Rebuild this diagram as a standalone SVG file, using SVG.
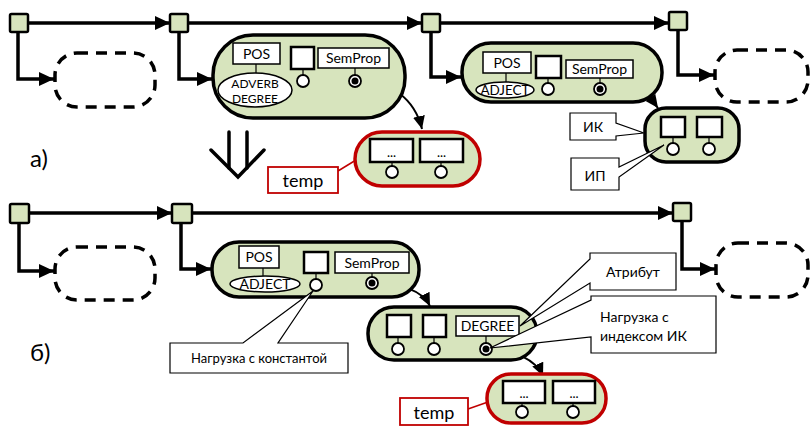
<svg xmlns="http://www.w3.org/2000/svg" width="811" height="426" viewBox="0 0 811 426">
<style>
text{font-family:Lato,"Open Sans","Liberation Sans",sans-serif;fill:#000}
.sq{fill:#d7e4bd;stroke:#000;stroke-width:2.5}
.node{fill:#d7e4bd;stroke:#000;stroke-width:3.5}
.red{fill:#d7e4bd;stroke:#c00000;stroke-width:3.5}
.dash{fill:none;stroke:#000;stroke-width:3.5;stroke-dasharray:11 8}
.box{fill:#fff;stroke:#000;stroke-width:1.5}
.bbox{fill:#fff;stroke:#000;stroke-width:2.5}
.pin{fill:#fff;stroke:#000;stroke-width:1.8}
.stem{stroke:#000;stroke-width:1.2}
.thick{fill:none;stroke:#000;stroke-width:3.5}
.curve{fill:none;stroke:#000;stroke-width:2}
.call{fill:#fff;stroke:#000;stroke-width:1.2}
.tag{fill:#fff;stroke:#c00000;stroke-width:1.8}
.lbl{font-size:14px;text-anchor:middle}
.dots{font-size:13px;text-anchor:middle}
</style>
<defs>
<marker id="ah" markerWidth="16" markerHeight="16" refX="15" refY="8" orient="auto" markerUnits="userSpaceOnUse"><path d="M0,1 L15,8 L0,15 z" fill="#000"/></marker>
<marker id="ac" markerWidth="14" markerHeight="14" refX="13" refY="7" orient="auto" markerUnits="userSpaceOnUse"><path d="M0,1 L13,7 L0,13 z" fill="#000"/></marker>
</defs>

<g id="connectors">
<path class="thick" d="M28,23 H170" marker-end="url(#ah)"/>
<path class="thick" d="M18,32 V79 H54" marker-end="url(#ah)"/>
<path class="thick" d="M188,23 H422" marker-end="url(#ah)"/>
<path class="thick" d="M179,32 V79 H212" marker-end="url(#ah)"/>
<path class="thick" d="M440,23 H669" marker-end="url(#ah)"/>
<path class="thick" d="M431,32 V77 H461" marker-end="url(#ah)"/>
<path class="thick" d="M678,30 V75 H714" marker-end="url(#ah)"/>
<path class="curve" d="M355,81 C392,80 415,100 422,129" marker-end="url(#ac)"/>
<path class="curve" d="M600,89 C628,88 648,94 658,108" marker-end="url(#ac)"/>
<path class="thick" d="M29,213 H172" marker-end="url(#ah)"/>
<path class="thick" d="M19,223 V271 H54" marker-end="url(#ah)"/>
<path class="thick" d="M192,213 H673" marker-end="url(#ah)"/>
<path class="thick" d="M181,223 V269 H211" marker-end="url(#ah)"/>
<path class="thick" d="M682,221 V269 H715" marker-end="url(#ah)"/>
<path class="curve" d="M372,283 C402,284 422,290 430,306" marker-end="url(#ac)"/>
<path class="curve" d="M486,349 C516,350 536,360 543,376" marker-end="url(#ac)"/>
<line x1="338" y1="171" x2="356" y2="160" stroke="#c00000" stroke-width="1.5"/>
<line x1="468" y1="409" x2="488" y2="402" stroke="#c00000" stroke-width="1.5"/>
</g>

<g id="labels-ab">
<text x="30" y="167" font-size="24">а)</text>
<text x="30" y="361" font-size="24">б)</text>
</g>

<g id="transform-arrow" fill="none" stroke="#000" stroke-width="3.5" stroke-linecap="round" stroke-linejoin="miter">
<line x1="229" y1="132" x2="229" y2="168"/>
<line x1="247" y1="132" x2="247" y2="168"/>
<polyline points="211,150 238,177 264,150"/>
</g>

<!-- top row -->
<g id="a-sq1"><rect class="sq" x="10" y="14" width="18" height="18" rx="1.5"/></g>
<g id="a-sq2"><rect class="sq" x="170" y="14" width="18" height="18" rx="1.5"/></g>
<g id="a-sq3"><rect class="sq" x="422" y="14" width="18" height="18" rx="1.5"/></g>
<g id="a-sq4"><rect class="sq" x="669" y="12" width="18" height="18" rx="1.5"/></g>
<g id="a-dash1"><rect class="dash" x="55" y="53" width="100" height="54" rx="22"/></g>
<g id="a-dash2"><rect class="dash" x="715" y="50" width="93" height="52" rx="22"/></g>

<g id="a-node1">
<rect class="node" x="213" y="35" width="192" height="83" rx="40"/>
<rect class="box" x="233" y="43" width="47" height="21"/>
<text class="lbl" x="256.5" y="59">POS</text>
<line class="stem" x1="256" y1="64" x2="256" y2="73"/>
<ellipse class="box" cx="255" cy="90" rx="37" ry="17"/>
<text x="255" y="88" font-size="12" text-anchor="middle">ADVERB</text>
<text x="255" y="103" font-size="12" text-anchor="middle">DEGREE</text>
<rect class="bbox" x="291" y="47" width="23" height="22"/>
<line class="stem" x1="303" y1="69" x2="303" y2="75"/>
<circle class="pin" cx="303" cy="81" r="6"/>
<rect class="box" x="318" y="48" width="71" height="20"/>
<text class="lbl" x="353.5" y="63">SemProp</text>
<line class="stem" x1="355" y1="68" x2="355" y2="75"/>
<circle class="pin" cx="355" cy="81" r="6"/>
<circle cx="355" cy="81" r="3.5" fill="#000"/>
</g>

<g id="a-red">
<rect class="red" x="355" y="132" width="125" height="54" rx="27"/>
<rect class="bbox" x="370" y="139" width="43" height="23"/>
<text class="dots" x="391.5" y="157">...</text>
<line class="stem" x1="392" y1="162" x2="392" y2="166"/>
<circle class="pin" cx="392" cy="172" r="6"/>
<rect class="bbox" x="420" y="139" width="43" height="23"/>
<text class="dots" x="441.5" y="157">...</text>
<line class="stem" x1="441" y1="162" x2="441" y2="166"/>
<circle class="pin" cx="441" cy="172" r="6"/>
</g>
<g id="a-temp">
<rect class="tag" x="268" y="167" width="70" height="26"/>
<text x="303" y="187" font-size="18" text-anchor="middle">temp</text>
</g>

<g id="a-node2">
<rect class="node" x="462" y="43" width="200" height="59" rx="29"/>
<rect class="box" x="483" y="52" width="48" height="21"/>
<text class="lbl" x="507" y="68">POS</text>
<line class="stem" x1="506" y1="73" x2="506" y2="82"/>
<ellipse class="box" cx="505" cy="90" rx="29" ry="8"/>
<text x="505" y="95" font-size="13.5" text-anchor="middle">ADJECT</text>
<rect class="bbox" x="536" y="56" width="25" height="22"/>
<line class="stem" x1="548" y1="78" x2="548" y2="83"/>
<circle class="pin" cx="548" cy="89" r="6"/>
<rect class="box" x="566" y="60" width="67" height="18"/>
<text class="lbl" x="599.5" y="74">SemProp</text>
<line class="stem" x1="600" y1="78" x2="600" y2="83"/>
<circle class="pin" cx="600" cy="89" r="6"/>
<circle cx="600" cy="89" r="3.5" fill="#000"/>
</g>

<g id="a-node3">
<rect class="node" x="645" y="108" width="94" height="54" rx="21"/>
<rect class="bbox" x="661" y="117" width="24" height="20"/>
<line class="stem" x1="673" y1="137" x2="673" y2="143"/>
<circle class="pin" cx="673" cy="149" r="6"/>
<rect class="bbox" x="697" y="117" width="25" height="20"/>
<line class="stem" x1="709" y1="137" x2="709" y2="143"/>
<circle class="pin" cx="709" cy="149" r="6"/>
</g>
<g id="a-callout-ik">
<path class="call" d="M570,113 H616 V123 L644,133 L616,136 V140 H570 Z"/>
<text x="593" y="132" font-size="14" text-anchor="middle">ИК</text>
</g>
<g id="a-callout-ip">
<path class="call" d="M571,158 H619 V167 L664,145 L619,177 V190 H571 Z"/>
<text x="595" y="181" font-size="14" text-anchor="middle">ИП</text>
</g>

<!-- bottom row -->
<g id="b-sq1"><rect class="sq" x="10" y="204" width="19" height="19" rx="1.5"/></g>
<g id="b-sq2"><rect class="sq" x="172" y="204" width="20" height="19" rx="1.5"/></g>
<g id="b-sq3"><rect class="sq" x="673" y="203" width="18" height="18" rx="1.5"/></g>
<g id="b-dash1"><rect class="dash" x="55" y="247" width="100" height="53" rx="22"/></g>
<g id="b-dash2"><rect class="dash" x="716" y="243" width="92" height="54" rx="22"/></g>

<g id="b-node1">
<rect class="node" x="212" y="242" width="207" height="55" rx="27"/>
<rect class="box" x="239" y="246" width="40" height="22"/>
<text class="lbl" x="259" y="262">POS</text>
<line class="stem" x1="263" y1="268" x2="263" y2="276"/>
<ellipse class="box" cx="265" cy="284" rx="35" ry="8"/>
<text x="265" y="289" font-size="14" text-anchor="middle">ADJECT</text>
<rect class="bbox" x="304" y="252" width="24" height="21"/>
<line class="stem" x1="316" y1="273" x2="316" y2="279"/>
<circle class="pin" cx="316" cy="285" r="6"/>
<rect class="box" x="335" y="252" width="74" height="21"/>
<text class="lbl" x="372" y="268" font-size="15">SemProp</text>
<line class="stem" x1="372" y1="273" x2="372" y2="277"/>
<circle class="pin" cx="372" cy="283" r="6"/>
<circle cx="372" cy="283" r="3.5" fill="#000"/>
</g>

<g id="b-node2">
<rect class="node" x="368" y="307" width="169" height="53" rx="26"/>
<rect class="bbox" x="387" y="315" width="24" height="22"/>
<line class="stem" x1="398" y1="337" x2="398" y2="343"/>
<circle class="pin" cx="398" cy="349" r="6"/>
<rect class="bbox" x="423" y="315" width="23" height="22"/>
<line class="stem" x1="434" y1="337" x2="434" y2="343"/>
<circle class="pin" cx="434" cy="349" r="6"/>
<rect class="box" x="456" y="316" width="63" height="20"/>
<text class="lbl" x="487.5" y="331">DEGREE</text>
<line class="stem" x1="486" y1="336" x2="486" y2="343"/>
<circle class="pin" cx="486" cy="349" r="6"/>
<circle cx="486" cy="349" r="3.5" fill="#000"/>
</g>

<g id="b-red">
<rect class="red" x="487" y="374" width="119" height="49" rx="24"/>
<rect class="bbox" x="503" y="381" width="42" height="22"/>
<text class="dots" x="524" y="398">...</text>
<line class="stem" x1="522" y1="403" x2="522" y2="406"/>
<circle class="pin" cx="522" cy="412" r="6"/>
<rect class="bbox" x="553" y="381" width="42" height="22"/>
<text class="dots" x="574" y="398">...</text>
<line class="stem" x1="573" y1="403" x2="573" y2="406"/>
<circle class="pin" cx="573" cy="412" r="6"/>
</g>
<g id="b-temp">
<rect class="tag" x="400" y="398" width="68" height="27"/>
<text x="434" y="419" font-size="18" text-anchor="middle">temp</text>
</g>

<g id="b-callout-const">
<path class="call" d="M170,343 H243 L313,291 L278,343 H348 V373 H170 Z"/>
<text x="259" y="363" font-size="13" text-anchor="middle">Нагрузка с константой</text>
</g>
<g id="b-callout-attr">
<path class="call" d="M590,253 H676 V290 H590 V283 L520,326 L590,259 Z"/>
<text x="633" y="277" font-size="14" text-anchor="middle">Атрибут</text>
</g>
<g id="b-callout-idx">
<path class="call" d="M591,296 H716 V353 H591 V337 L490,348 L591,300 Z"/>
<text x="600" y="322" font-size="14">Нагрузка с</text>
<text x="600" y="341" font-size="14">индексом ИК</text>
</g>
</svg>
